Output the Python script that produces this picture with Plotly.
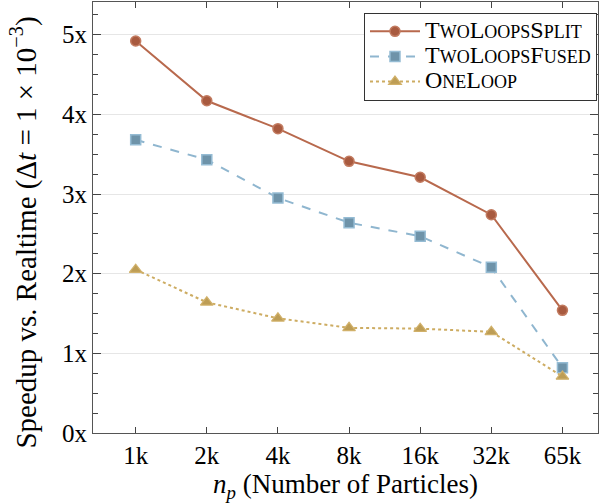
import plotly.graph_objects as go

categories = ["1k", "2k", "4k", "8k", "16k", "32k", "65k"]
split_vals = [4.92, 4.17, 3.82, 3.41, 3.21, 2.74, 1.54]
fused_vals = [3.68, 3.43, 2.95, 2.64, 2.47, 2.08, 0.82]
oneloop_vals = [2.05, 1.64, 1.44, 1.32, 1.31, 1.27, 0.71]
ytick_vals = [0, 1, 2, 3, 4, 5]
ytick_text = ["0x", "1x", "2x", "3x", "4x", "5x"]

xs = list(range(len(categories)))
FONT = "Liberation Serif"


def smallcaps(parts, big_size, small_size):
    out = ""
    for big, small in parts:
        out += "<span style='font-size:%dpx'>%s</span>" % (big_size, big)
        out += "<span style='font-size:%dpx'>%s</span>" % (small_size, small)
    return out


BIG, SMALL = 24, 18
name_split = smallcaps([("T", "WO"), ("L", "OOPS"), ("S", "PLIT")], BIG, SMALL)
name_fused = smallcaps([("T", "WO"), ("L", "OOPS"), ("F", "USED")], BIG, SMALL)
name_one = smallcaps([("O", "NE"), ("L", "OOP")], BIG, SMALL)

fig = go.Figure()
fig.add_trace(go.Scatter(
    x=xs, y=split_vals, name=name_split, mode="lines+markers",
    line=dict(color="#b8694d", width=2),
    marker=dict(symbol="circle", size=10, color="#a85a3f",
                line=dict(color="#c27b60", width=1.5)),
))
fig.add_trace(go.Scatter(
    x=xs, y=fused_vals, name=name_fused, mode="lines+markers",
    line=dict(color="#8fb6cf", width=2, dash="dash"),
    marker=dict(symbol="square", size=10, color="#6e93a9",
                line=dict(color="#95bcd4", width=1.5)),
))
fig.add_trace(go.Scatter(
    x=xs, y=oneloop_vals, name=name_one, mode="lines+markers",
    line=dict(color="#cdac62", width=2, dash="dot"),
    marker=dict(symbol="triangle-up", size=11, color="#bd9d55",
                line=dict(color="#d1b16a", width=1.2)),
))

fig.update_layout(
    width=609, height=503,
    margin=dict(l=93, r=11, t=2, b=70),
    paper_bgcolor="white", plot_bgcolor="white",
    font=dict(family=FONT, size=25, color="black"),
    showlegend=True,
    legend=dict(
        x=0.998, y=0.975, xanchor="right", yanchor="top",
        bgcolor="white", bordercolor="#333333", borderwidth=1,
        font=dict(family=FONT, size=17, color="black"),
        tracegroupgap=0, itemwidth=50,
    ),
    annotations=[dict(
        text="Speedup vs. Realtime (Δ<i>t</i> = 1 × 10<sup>−3</sup>)",
        xref="paper", yref="paper", x=0, y=0.465,
        xanchor="center", yanchor="middle", xshift=-69,
        textangle=-90, showarrow=False,
        font=dict(family=FONT, size=29, color="black"),
    )],
)
fig.update_xaxes(
    range=[-0.6, 6.5],
    tickvals=xs, ticktext=categories,
    showgrid=False, zeroline=False,
    showline=True, linecolor="#555555", linewidth=1.2, mirror="allticks",
    ticks="inside", ticklen=6, tickcolor="#444444", tickwidth=1,
    tickfont=dict(family=FONT, size=25),
    title=dict(text="<i>n</i><sub><i>p</i></sub> (Number of Particles)",
               font=dict(family=FONT, size=27), standoff=4),
)
fig.update_yaxes(
    range=[0, 5.41],
    tickvals=ytick_vals, ticktext=ytick_text,
    showgrid=True, gridcolor="#e6e6e6", gridwidth=1, zeroline=False,
    showline=True, linecolor="#555555", linewidth=1.2, mirror="allticks",
    ticks="inside", ticklen=8, tickcolor="#444444", tickwidth=1,
    minor=dict(dtick=0.25, tick0=0, ticks="inside", ticklen=5,
               tickcolor="#444444", tickwidth=1, showgrid=False),
    tickfont=dict(family=FONT, size=25),
)

fig.write_html("out.html")
